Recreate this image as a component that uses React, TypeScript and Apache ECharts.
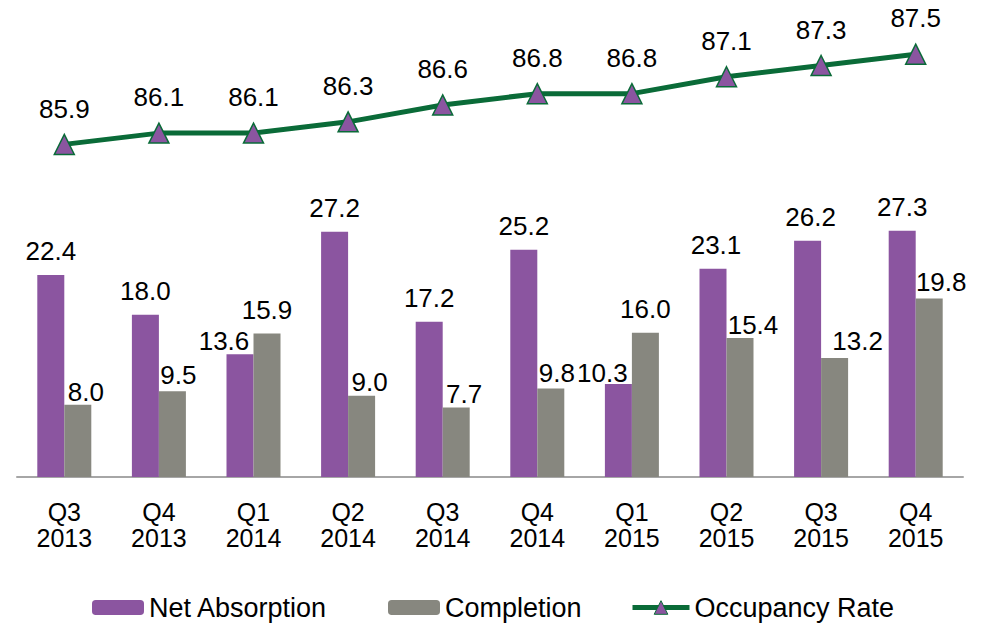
import React, { useEffect, useRef } from "react";
import * as echarts from "echarts";

// Quarterly office market figures
const categories = [
  "Q3\n2013", "Q4\n2013", "Q1\n2014", "Q2\n2014", "Q3\n2014",
  "Q4\n2014", "Q1\n2015", "Q2\n2015", "Q3\n2015", "Q4\n2015",
];
const netAbsorption = [22.4, 18.0, 13.6, 27.2, 17.2, 25.2, 10.3, 23.1, 26.2, 27.3];
const completion = [8.0, 9.5, 15.9, 9.0, 7.7, 9.8, 16.0, 15.4, 13.2, 19.8];
const occupancyRate = [85.9, 86.1, 86.1, 86.3, 86.6, 86.8, 86.8, 87.1, 87.3, 87.5];

// Hand-placed nudges for value labels that would otherwise collide
const absorptionLabelShift: [number, number][] = [
  [0, 0], [0, 0], [-16, 11], [0, 0], [0, 0], [0, 0], [-16, 13], [3, 0], [3, 0], [0, 0],
];
const completionLabelShift: [number, number][] = [
  [8, 11], [6, 8], [0, 0], [8, 10], [8, 10], [6, 8], [0, 0], [13, 11], [23, 7], [12, 8],
];

const PURPLE = "#8B55A0";
const GREY = "#87877F";
const GREEN = "#0A6B38";
const FONT = "'Liberation Sans', Arial, Helvetica, sans-serif";

const fmt = (p: any) => Number(p.value).toFixed(1);

export default function App() {
  const ref = useRef<HTMLDivElement>(null);

  useEffect(() => {
    if (!ref.current) return;
    const chart = echarts.init(ref.current, undefined, { renderer: "svg" });

    const barLabel = {
      show: true,
      position: "top",
      distance: 11,
      color: "#000",
      fontSize: 26,
      fontFamily: FONT,
      formatter: fmt,
    };

    const legendText = { color: "#000", fontSize: 27, fontFamily: FONT };
    const legendTop = 589;
    const triangleStyle = { color: PURPLE, borderColor: GREEN, borderWidth: 1 };

    chart.setOption({
      animation: false,
      backgroundColor: "#fff",
      textStyle: { fontFamily: FONT },
      grid: { left: 17, right: 23, top: 26, bottom: 146, containLabel: false },
      legend: [
        {
          data: ["Net Absorption"],
          left: 87,
          top: legendTop,
          itemWidth: 52,
          itemHeight: 15,
          textStyle: legendText,
        },
        {
          data: ["Completion"],
          left: 383,
          top: legendTop,
          itemWidth: 52,
          itemHeight: 15,
          textStyle: legendText,
        },
        {
          data: [
            {
              name: "Occupancy Rate",
              itemStyle: triangleStyle,
              lineStyle: { color: GREEN, width: 5 },
            },
          ],
          left: 625,
          top: legendTop,
          itemWidth: 57,
          itemHeight: 17,
          itemStyle: triangleStyle,
          textStyle: legendText,
        },
      ],
      xAxis: {
        type: "category",
        data: categories,
        axisTick: { show: false },
        axisLine: { lineStyle: { color: "#A6A6A6", width: 2 } },
        axisLabel: {
          color: "#000",
          fontSize: 25,
          lineHeight: 26,
          margin: 22,
          fontFamily: FONT,
          interval: 0,
        },
      },
      yAxis: [
        { type: "value", min: 0, max: 50, show: false, splitLine: { show: false } },
        { type: "value", min: 80, max: 88, show: false, splitLine: { show: false } },
      ],
      series: [
        {
          name: "Net Absorption",
          type: "bar",
          yAxisIndex: 0,
          barWidth: 27,
          barGap: "0%",
          itemStyle: { color: PURPLE },
          data: netAbsorption.map((v, i) => ({
            value: v,
            label: { offset: absorptionLabelShift[i] },
          })),
          label: barLabel,
        },
        {
          name: "Completion",
          type: "bar",
          yAxisIndex: 0,
          barWidth: 27,
          barGap: "0%",
          itemStyle: { color: GREY },
          data: completion.map((v, i) => ({
            value: v,
            label: { offset: completionLabelShift[i] },
          })),
          label: barLabel,
        },
        {
          name: "Occupancy Rate",
          type: "line",
          yAxisIndex: 1,
          z: 5,
          data: occupancyRate,
          symbol: "triangle",
          symbolSize: 20,
          lineStyle: { color: GREEN, width: 5 },
          itemStyle: { color: PURPLE, borderColor: GREEN, borderWidth: 1.5 },
          label: {
            show: true,
            position: "top",
            distance: 12,
            color: "#000",
            fontSize: 26,
            fontFamily: FONT,
            formatter: fmt,
          },
        },
      ],
    });

    return () => chart.dispose();
  }, []);

  return (
    <div
      ref={ref}
      style={{ position: "absolute", left: 0, top: 0, width: 986, height: 623 }}
    />
  );
}
